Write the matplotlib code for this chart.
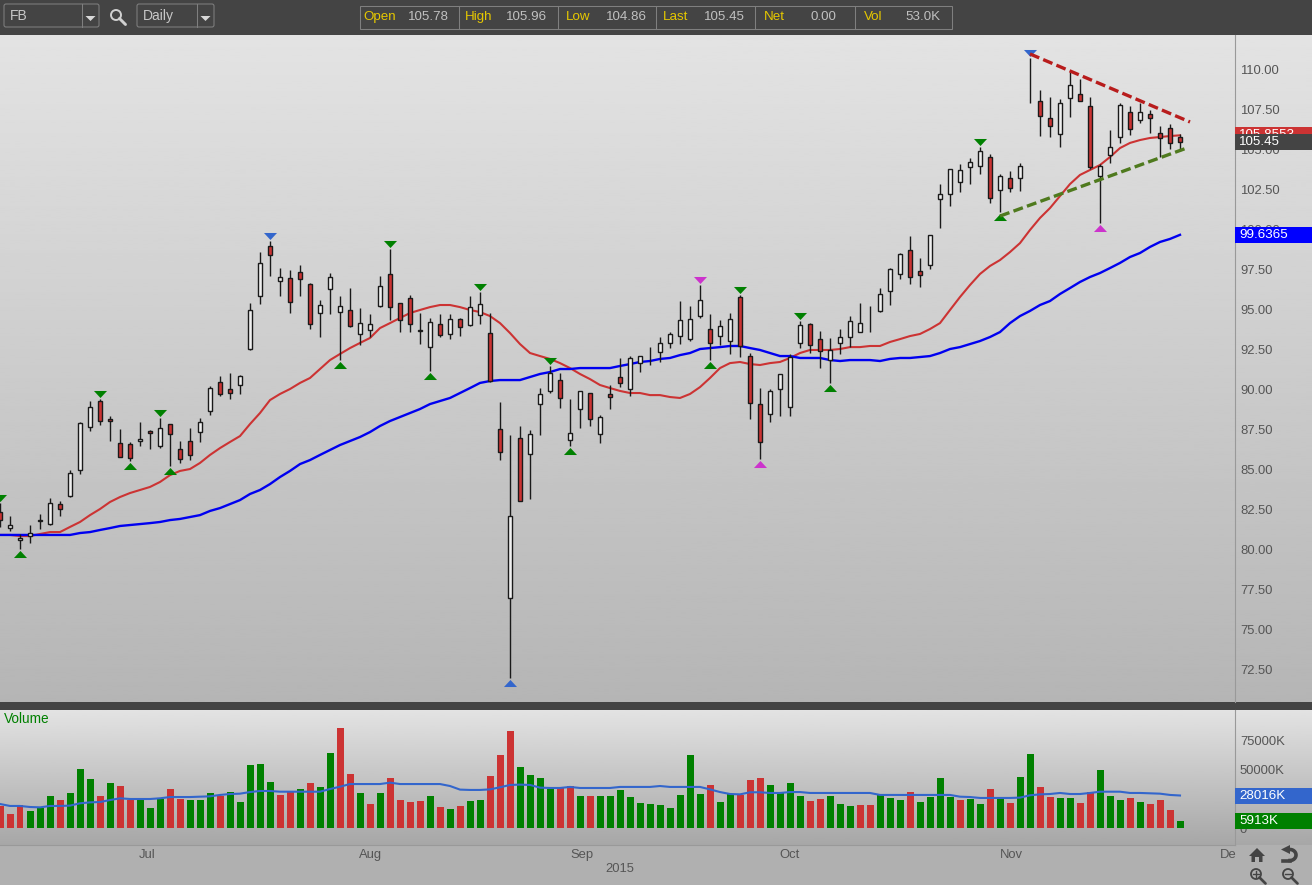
import numpy as np
import matplotlib
matplotlib.use("Agg")
import matplotlib.pyplot as plt
from matplotlib.patches import Rectangle, FancyBboxPatch, Circle, Polygon
from matplotlib.transforms import ScaledTranslation

plt.rcParams['font.family'] = ['Liberation Sans', 'DejaVu Sans']

# one bar per session
opens = [82.31, 81.31, 80.56, 80.81, 81.75, 81.56, 82.81, 83.31, 84.94, 87.62,
         89.25, 88.12, 86.62, 86.56, 86.75, 87.37, 86.44, 87.81, 86.25, 86.75,
         87.31, 88.62, 90.44, 90.00, 90.25, 92.50, 95.81, 98.94, 96.75, 96.94,
         97.31, 96.56, 94.75, 96.25, 94.81, 94.94, 93.44, 93.69, 95.19, 97.19,
         95.37, 95.69, 93.62, 92.62, 94.06, 93.44, 94.37, 94.00, 94.62, 93.50,
         87.50, 76.94, 86.94, 85.94, 89.06, 89.87, 90.56, 86.81, 88.75, 89.75,
         87.19, 89.69, 90.75, 90.00, 91.62, 91.75, 92.31, 92.87, 93.31, 93.12,
         94.56, 93.75, 93.31, 93.00, 95.75, 92.06, 89.06, 88.44, 90.00, 88.87,
         92.87, 94.06, 93.12, 91.81, 92.87, 93.25, 93.56, 94.31, 94.87, 96.12,
         97.19, 98.69, 97.37, 97.75, 101.87, 102.19, 102.94, 103.87, 103.94, 104.50,
         102.44, 103.19, 103.19, 110.69, 108.00, 106.94, 105.94, 108.19, 108.44, 107.69,
         103.31, 104.62, 105.75, 107.31, 106.81, 107.19, 106.00, 106.31, 105.78]
highs = [82.87, 82.06, 80.94, 81.50, 82.19, 83.19, 83.00, 84.94, 87.94, 89.25,
         89.37, 88.31, 87.50, 86.69, 87.94, 87.44, 88.19, 87.81, 86.75, 87.56,
         88.19, 90.19, 90.81, 91.00, 90.87, 95.37, 98.56, 99.25, 97.56, 97.44,
         97.75, 96.62, 95.56, 97.25, 95.81, 96.31, 95.06, 94.69, 97.06, 98.75,
         95.37, 95.87, 94.75, 94.44, 94.69, 94.69, 94.44, 95.81, 96.06, 94.75,
         89.19, 87.12, 87.69, 87.44, 90.06, 91.44, 91.00, 89.37, 89.87, 89.75,
         88.37, 90.25, 91.94, 92.06, 92.06, 92.62, 93.25, 93.56, 95.50, 95.19,
         96.50, 94.69, 94.31, 94.75, 95.87, 92.25, 90.06, 90.00, 90.94, 92.19,
         94.25, 94.12, 93.62, 93.19, 93.75, 94.56, 95.37, 95.19, 96.31, 97.56,
         98.50, 99.56, 98.19, 99.62, 102.81, 103.75, 104.06, 104.44, 105.12, 104.69,
         103.44, 103.62, 104.12, 110.69, 108.69, 108.25, 108.12, 109.81, 109.37, 108.25,
         104.06, 106.19, 107.87, 107.69, 107.87, 107.44, 106.44, 106.56, 105.96]
lows = [81.38, 81.12, 80.00, 80.38, 81.25, 81.50, 82.06, 83.25, 84.69, 87.37,
        87.75, 86.75, 85.75, 85.50, 86.44, 86.25, 86.31, 85.19, 85.37, 85.56,
        86.69, 88.37, 89.56, 89.37, 89.69, 92.44, 95.31, 97.06, 95.81, 94.75,
        95.81, 93.75, 93.25, 94.69, 91.81, 93.87, 92.75, 93.25, 95.12, 94.31,
        93.56, 93.56, 92.81, 91.12, 93.25, 93.12, 93.31, 93.94, 94.06, 90.44,
        85.56, 71.94, 83.00, 83.12, 87.12, 89.75, 88.81, 86.44, 87.56, 87.69,
        86.62, 88.75, 90.12, 89.56, 91.06, 91.50, 91.69, 92.56, 92.81, 93.00,
        94.44, 91.81, 92.75, 92.19, 92.00, 88.12, 85.62, 87.94, 88.31, 88.31,
        92.56, 92.25, 91.31, 90.37, 92.19, 92.62, 93.56, 93.56, 94.81, 95.25,
        96.87, 96.56, 96.37, 97.50, 100.06, 101.44, 102.31, 102.81, 103.44, 101.62,
        101.06, 102.31, 102.37, 107.87, 105.81, 105.75, 105.12, 107.00, 108.00, 103.75,
        100.37, 104.12, 105.37, 105.87, 106.62, 106.00, 104.50, 105.00, 104.86]
closes = [81.81, 81.50, 80.69, 81.00, 81.81, 82.87, 82.50, 84.75, 87.87, 88.87,
          88.00, 88.00, 85.75, 85.69, 86.87, 87.25, 87.56, 87.19, 85.62, 85.87,
          87.94, 90.06, 89.69, 89.75, 90.81, 94.94, 97.87, 98.37, 97.00, 95.44,
          96.87, 94.06, 95.25, 97.00, 95.19, 93.94, 94.12, 94.06, 96.44, 95.12,
          94.31, 94.06, 93.69, 94.19, 93.37, 94.37, 93.87, 95.12, 95.31, 90.50,
          86.06, 82.06, 83.00, 87.19, 89.69, 91.00, 89.44, 87.25, 89.87, 88.12,
          88.25, 89.50, 90.37, 91.94, 92.06, 91.75, 92.87, 93.44, 94.31, 94.37,
          95.56, 92.87, 93.94, 94.37, 92.69, 89.12, 86.69, 89.87, 90.94, 92.00,
          94.00, 92.75, 92.37, 92.44, 93.25, 94.25, 94.12, 94.31, 95.94, 97.50,
          98.44, 97.00, 97.12, 99.62, 102.19, 103.75, 103.69, 104.19, 104.87, 101.94,
          103.31, 102.56, 103.94, 110.69, 107.06, 106.44, 107.87, 109.00, 108.00, 103.87,
          103.94, 105.12, 107.75, 106.25, 107.31, 106.94, 105.69, 105.37, 105.45]

ma_red = [80.88, 80.88, 80.81, 80.81, 80.94, 81.06, 81.06, 81.38, 81.69, 82.12,
          82.50, 82.94, 83.25, 83.50, 83.69, 83.88, 84.19, 84.62, 84.88, 85.00,
          85.38, 85.88, 86.31, 86.69, 87.06, 87.81, 88.50, 89.31, 89.69, 90.00,
          90.38, 90.69, 91.25, 91.81, 92.19, 92.56, 92.88, 93.19, 93.81, 94.12,
          94.44, 94.75, 94.94, 95.12, 95.25, 95.25, 95.12, 94.94, 94.81, 94.56,
          94.12, 93.50, 92.81, 92.25, 92.06, 91.88, 91.62, 91.31, 90.94, 90.62,
          90.25, 90.06, 89.88, 89.75, 89.75, 89.62, 89.62, 89.50, 89.44, 89.69,
          90.12, 90.69, 91.31, 91.62, 91.69, 91.56, 91.50, 91.62, 91.69, 91.94,
          92.25, 92.44, 92.44, 92.44, 92.50, 92.62, 92.62, 92.69, 92.69, 92.94,
          93.12, 93.31, 93.44, 93.75, 94.12, 94.94, 95.75, 96.50, 97.19, 97.69,
          98.06, 98.56, 99.12, 99.94, 100.69, 101.31, 102.06, 102.81, 103.38, 103.69,
          104.00, 104.50, 105.06, 105.38, 105.56, 105.69, 105.75, 105.81, 105.8553]
ma_blue = [80.88, 80.88, 80.88, 80.88, 80.88, 80.88, 80.88, 80.88, 81.00, 81.06,
           81.19, 81.31, 81.44, 81.50, 81.56, 81.62, 81.69, 81.81, 81.88, 82.00,
           82.12, 82.38, 82.56, 82.81, 83.06, 83.44, 83.69, 84.06, 84.50, 84.88,
           85.31, 85.56, 85.88, 86.19, 86.50, 86.75, 87.00, 87.31, 87.69, 88.00,
           88.25, 88.50, 88.75, 89.06, 89.25, 89.44, 89.75, 90.06, 90.38, 90.50,
           90.56, 90.56, 90.56, 90.75, 90.94, 91.06, 91.25, 91.25, 91.31, 91.31,
           91.31, 91.31, 91.44, 91.56, 91.69, 91.75, 91.88, 91.94, 92.12, 92.25,
           92.50, 92.56, 92.62, 92.69, 92.69, 92.56, 92.44, 92.25, 92.06, 92.06,
           91.94, 91.94, 91.94, 91.81, 91.75, 91.81, 91.81, 91.81, 91.75, 91.88,
           91.94, 91.94, 92.00, 92.06, 92.25, 92.50, 92.62, 92.81, 93.00, 93.25,
           93.56, 94.12, 94.56, 94.88, 95.25, 95.50, 95.94, 96.31, 96.69, 97.00,
           97.25, 97.56, 97.88, 98.25, 98.50, 98.88, 99.19, 99.38, 99.6365]

# volume in thousands of K
volumes = [19.0, 12.1, 19.8, 14.7, 17.2, 27.6, 24.1, 30.2, 50.9, 42.2,
           27.6, 38.8, 36.2, 24.1, 25.0, 17.2, 25.0, 33.6, 25.0, 24.1,
           24.1, 30.2, 27.6, 31.0, 22.4, 54.3, 55.2, 39.7, 28.5, 31.0,
           33.6, 38.8, 35.4, 64.7, 86.2, 46.6, 30.2, 20.7, 30.2, 43.1,
           24.1, 22.4, 23.3, 27.6, 18.1, 16.4, 19.0, 23.3, 24.1, 44.8,
           62.9, 83.6, 52.6, 45.7, 43.1, 33.6, 34.5, 36.2, 27.6, 27.6,
           27.6, 27.6, 32.8, 26.7, 21.6, 20.7, 19.8, 17.2, 28.5, 62.9,
           29.3, 37.1, 22.4, 29.3, 28.5, 41.4, 43.1, 37.1, 30.2, 38.8,
           27.6, 23.3, 25.0, 27.6, 20.7, 19.0, 19.8, 19.8, 28.5, 25.9,
           24.1, 31.0, 22.4, 26.7, 43.1, 26.7, 24.1, 25.0, 20.7, 33.6,
           25.0, 21.6, 44.0, 63.8, 35.4, 26.7, 25.9, 25.9, 21.6, 31.0,
           50.0, 27.6, 24.1, 25.9, 22.4, 20.7, 24.1, 15.5, 5.913]
vol_colors = ("rrrgggrggg"
              "rgrrgggrrg"
              "ggrgggggrr"
              "grggrrgrgr"
              "rrrgrgrggr"
              "rrggggrrgr"
              "gggggggggg"
              "grggrrrggg"
              "grrgggrrgg"
              "grggggrggr"
              "grggrrggrr"
              "gggrgrrrg")
vol_ma = [20.7, 19.0, 19.0, 18.1, 17.8, 19.0, 19.0, 19.3, 21.3, 22.1,
          22.4, 24.1, 25.6, 25.0, 25.0, 25.0, 25.6, 26.7, 26.7, 26.7,
          27.0, 27.3, 28.5, 29.3, 29.6, 31.0, 31.9, 31.9, 31.3, 31.3,
          31.3, 31.3, 31.3, 33.6, 35.6, 37.9, 37.9, 37.9, 37.9, 39.1,
          37.9, 37.9, 37.9, 37.9, 37.9, 36.2, 33.1, 32.8, 32.8, 33.3,
          35.1, 37.1, 37.4, 37.1, 34.8, 34.5, 34.5, 35.4, 34.5, 34.5,
          34.5, 34.5, 35.4, 35.4, 35.4, 35.4, 36.2, 35.4, 35.4, 35.4,
          35.4, 33.3, 31.0, 29.3, 29.0, 30.8, 30.8, 30.2, 30.2, 31.0,
          31.0, 30.2, 30.2, 30.2, 30.2, 30.2, 30.2, 30.2, 28.5, 28.5,
          28.5, 28.5, 28.5, 28.5, 28.5, 28.5, 27.0, 26.7, 25.9, 25.9,
          25.9, 25.9, 26.2, 28.2, 29.0, 29.3, 30.2, 29.3, 29.3, 30.2,
          31.3, 31.3, 31.3, 30.2, 30.2, 29.9, 29.6, 28.5, 28.016]

# pivot markers: bar number and colour
pivot_high = [(0, 'g'), (10, 'g'), (16, 'g'), (27, 'b'), (39, 'g'), (48, 'g'), (55, 'g'),
              (70, 'm'), (74, 'g'), (80, 'g'), (98, 'g'), (103, 'b')]
pivot_low = [(2, 'g'), (13, 'g'), (17, 'g'), (34, 'g'), (43, 'g'), (51, 'b'), (57, 'g'),
             (71, 'g'), (76, 'm'), (83, 'g'), (100, 'g'), (110, 'm')]

# trend lines drawn on the chart
resist_x, resist_y = [103, 119], [110.94, 106.69]
support_x, support_y = [100, 118.67], [100.81, 105.06]

price_ticks = np.arange(72.5, 112.5, 2.5)
vol_ticks = [0, 25000, 50000, 75000]
vol_tick_labels = ['0', '25000K', '50000K', '75000K']
month_pos = [14.7, 37.1, 58.2, 79.0, 101.1, 122.8]
month_names = ['Jul', 'Aug', 'Sep', 'Oct', 'Nov', 'De']

stat_names = ['Open', 'High', 'Low', 'Last', 'Net', 'Vol']
stat_values = ['105.78', '105.96', '104.86', '105.45', '0.00', '53.0K']

W, H = 1312, 885
RED = '#cc3333'
GREEN = '#008000'
MARK = {'g': '#008000', 'b': '#3366cc', 'm': '#cc33cc'}
TXT = '#555555'
AXLINE = '#999999'

fig = plt.figure(figsize=(W / 100, H / 100), dpi=100)


def px_axes(x0, y0, x1, y1):
    return fig.add_axes([x0 / W, 1 - y1 / H, (x1 - x0) / W, (y1 - y0) / H])


# background and tool bars, in pixels
bg = fig.add_axes([0, 0, 1, 1], zorder=0)
bg.axis('off')
gray = dict(cmap='gray', vmin=0, vmax=1, aspect='auto')
bg.imshow(np.linspace(0.89, 0.71, 256).reshape(-1, 1), extent=(0, W, 702, 35), **gray)
bg.imshow(np.linspace(0.89, 0.655, 256).reshape(-1, 1), extent=(0, W, 845, 710), **gray)
bg.set_xlim(0, W)
bg.set_ylim(H, 0)
bg.add_patch(Rectangle((0, 0), W, 35, fc='#444444', ec='none'))
bg.add_patch(Rectangle((0, 702), W, 8, fc='#444444', ec='none'))
bg.add_patch(Rectangle((0, 845), W, 40, fc='#b0b0b0', ec='none'))


def combo(x0, x1, xdiv, label):
    bg.add_patch(FancyBboxPatch((x0 + 2, 6), x1 - x0 - 4, 19, boxstyle='round,pad=2',
                                fc='#444444', ec='#7f7f7f', lw=0.75))
    bg.plot([xdiv, xdiv], [4, 27], color='#7f7f7f', lw=0.75)
    bg.add_patch(Polygon([(xdiv + 3.5, 16), (xdiv + 13.5, 16), (xdiv + 8.5, 21)], fc='#d8d8d8', ec='none'))
    bg.text(x0 + 6, 16, label, color='#c8c8c8', fontsize=10, va='center')


def magnifier(x, y, r, col, lw):
    bg.add_patch(Circle((x, y), r, fc='none', ec=col, lw=lw))
    bg.plot([x + r * 0.7, x + r * 1.9], [y + r * 0.7, y + r * 1.9], color=col, lw=lw * 1.5,
            solid_capstyle='round')


combo(4, 99, 82, 'FB')
combo(137, 214, 197, 'Daily')
magnifier(116, 15, 5, '#d0d0d0', 1.4)

bg.add_patch(Rectangle((359.5, 5.5), 592.5, 23.5, fc='none', ec='#7f7f7f', lw=0.75))
divs = [458.7, 557.6, 656.4, 755.3, 854.5]
for d in divs:
    bg.plot([d, d], [5.5, 29], color='#7f7f7f', lw=0.75)
name_x = [363.5, 464.5, 565.5, 663, 764, 864]
value_x = [428, 527, 626, 724.5, 823, 923]
for i in range(6):
    bg.text(name_x[i], 17, stat_names[i], color='#e6c800', fontsize=9.6, va='center')
    bg.text(value_x[i], 17, stat_values[i], color='#c0c0c0', fontsize=9.6, va='center', ha='center')

# little buttons bottom right
bg.add_patch(Polygon([(1249, 856), (1257, 848), (1265, 856), (1262.5, 856), (1262.5, 862),
                      (1259, 862), (1259, 857), (1255, 857), (1255, 862), (1251.5, 862), (1251.5, 856)],
                     fc='#444444', ec='none'))
t = np.linspace(-np.pi / 2, np.pi / 2, 30)
bg.plot(1290 + 6 * np.cos(t), 855 + 5.5 * np.sin(t), color='#444444', lw=2.6)
bg.plot([1290, 1283], [860.5, 860.5], color='#444444', lw=2.6)
bg.add_patch(Polygon([(1281, 849.5), (1290, 845), (1290, 854)], fc='#444444', ec='none'))
magnifier(1256, 874, 5, '#444444', 1.3)
magnifier(1288, 874, 5, '#444444', 1.3)
bg.plot([1253, 1259], [874, 874], color='#444444', lw=1)
bg.plot([1256, 1256], [871, 877], color='#444444', lw=1)
bg.plot([1285, 1291], [874, 874], color='#444444', lw=1)

# price panel
ax = px_axes(0, 35, 1235, 702)
ax.set_zorder(2)
ax.patch.set_visible(False)
xs = np.arange(len(closes))
o = np.array(opens)
c = np.array(closes)

ax.plot(xs, ma_red, color=RED, lw=1.5, zorder=2)
ax.plot(xs, ma_blue, color='#0000f0', lw=1.7, zorder=2)
ax.vlines(xs, lows, highs, color='#1a1a1a', lw=1.0, zorder=3)
has_body = o != c
body_col = [RED if a > b else '#f0f0f0' for a, b in zip(o, c)]
ax.bar(xs[has_body], np.abs(c - o)[has_body], bottom=np.minimum(o, c)[has_body], width=0.42,
       color=np.array(body_col)[has_body], edgecolor='#1a1a1a', lw=1.0, zorder=4)

shift_up = ax.transData + ScaledTranslation(0, 5 / 100, fig.dpi_scale_trans)
shift_dn = ax.transData + ScaledTranslation(0, -5 / 100, fig.dpi_scale_trans)
tri_dn = [(-6.5, 3.5), (6.5, 3.5), (0, -3.5)]
tri_up = [(-6.5, -3.5), (6.5, -3.5), (0, 3.5)]
for i, k in pivot_high:
    ax.plot(i, highs[i], marker=tri_dn, ms=9.4, color=MARK[k], mew=0, transform=shift_up, zorder=5,
            clip_on=False)
for i, k in pivot_low:
    ax.plot(i, lows[i], marker=tri_up, ms=9.4, color=MARK[k], mew=0, transform=shift_dn, zorder=5)

ax.plot(resist_x, resist_y, color='#b81c1c', lw=2.4, dashes=(3, 1.3), zorder=5)
ax.plot(support_x, support_y, color='#4f7a1e', lw=2.4, dashes=(3, 1.3), zorder=5)

ax.set_xlim(0, 123.5)
ax.set_ylim(70.44, 112.125)
ax.set_xticks([])
ax.yaxis.tick_right()
ax.set_yticks(price_ticks)
ax.set_yticklabels(['%.2f' % v for v in price_ticks])
ax.tick_params(axis='y', length=0, pad=3.6, labelsize=9.4, labelcolor=TXT)
for s in ['left', 'top', 'bottom']:
    ax.spines[s].set_visible(False)
ax.spines['right'].set_color(AXLINE)


def value_box(a, val, half, txt, col):
    tr = a.get_yaxis_transform()
    a.add_patch(Rectangle((1.0, val - half), 77 / 1235, 2 * half, transform=tr, fc=col, ec='none',
                          clip_on=False, zorder=6))
    a.text(1 + 4 / 1235, val, txt, transform=tr, color='white', fontsize=9.6, va='center', zorder=6,
           clip_on=False)


value_box(ax, 105.8553, 0.5, '105.8553', RED)
value_box(ax, 105.45, 0.5, '105.45', '#444444')
value_box(ax, 99.6365, 0.5, '99.6365', '#0000ff')

# volume panel
ax2 = px_axes(0, 710, 1235, 845)
ax2.set_zorder(2)
ax2.patch.set_visible(False)
vol = np.array(volumes) * 1000
ax2.bar(xs, vol, width=0.7, color=[RED if k == 'r' else GREEN for k in vol_colors], zorder=2)
ax2.plot(xs, np.array(vol_ma) * 1000, color='#3366cc', lw=1.5, zorder=3)
ax2.set_xlim(0, 123.5)
ax2.set_ylim(-14655, 101724)
ax2.yaxis.tick_right()
ax2.set_yticks(vol_ticks)
ax2.set_yticklabels(vol_tick_labels)
ax2.set_xticks(month_pos)
ax2.set_xticklabels(month_names)
ax2.tick_params(axis='y', length=0, pad=3.6, labelsize=9.4, labelcolor=TXT)
ax2.tick_params(axis='x', length=0, pad=3, labelsize=9.4, labelcolor=TXT)
for s in ['left', 'top']:
    ax2.spines[s].set_visible(False)
ax2.spines['right'].set_color(AXLINE)
ax2.spines['bottom'].set_color(AXLINE)
ax2.text(4 / 1235, 1 - 9 / 135, 'Volume', transform=ax2.transAxes, color=GREEN, fontsize=9.8, va='center')
value_box(ax2, 28016, 6897, '28016K', '#3366cc')
value_box(ax2, 5913, 6897, '5913K', GREEN)

bg.text(620, 869.5, '2015', color=TXT, fontsize=9.4, ha='center', va='center')

fig.savefig('out.png', dpi=100)
